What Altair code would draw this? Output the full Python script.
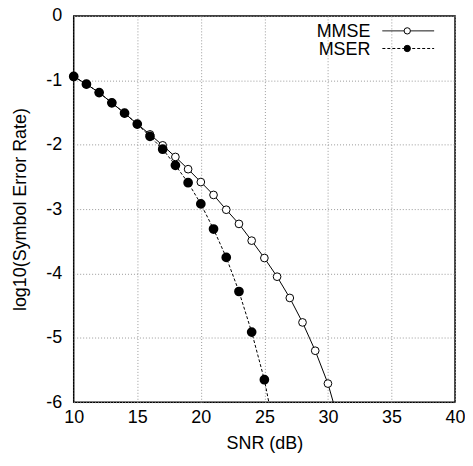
import altair as alt
import pandas as pd

snr = [10, 11, 12, 13, 14, 15, 16, 17, 18, 19, 20, 21, 22, 23, 24, 25, 26, 27, 28, 29, 30]
mmse = [-0.94, -1.06, -1.19, -1.35, -1.51, -1.68, -1.84, -2.01, -2.19, -2.38, -2.58, -2.78,
        -3.01, -3.23, -3.49, -3.76, -4.05, -4.38, -4.76, -5.2, -5.71]
snr_mser = [10, 11, 12, 13, 14, 15, 16, 17, 18, 19, 20, 21, 22, 23, 24, 25]
mser = [-0.94, -1.06, -1.19, -1.35, -1.51, -1.68, -1.87, -2.07, -2.32, -2.59, -2.92, -3.31,
        -3.75, -4.28, -4.91, -5.65]
# where the drawn curves leave the plot at the bottom edge
mmse_tail = (30.42, -6.0)
mser_tail = (25.35, -6.0)
names = ["MMSE", "MSER"]

FONT = "Liberation Sans"
FS = 18

pts_mmse = pd.DataFrame({"snr": snr, "ser": mmse})
pts_mser = pd.DataFrame({"snr": snr_mser, "ser": mser})
line_mmse = pd.concat([pts_mmse, pd.DataFrame({"snr": [mmse_tail[0]], "ser": [mmse_tail[1]]})])
line_mser = pd.concat([pts_mser, pd.DataFrame({"snr": [mser_tail[0]], "ser": [mser_tail[1]]})])

xs = alt.Scale(domain=[10, 40], nice=False)
ys = alt.Scale(domain=[-6, 0], nice=False)
X = alt.X("snr:Q", scale=xs, axis=alt.Axis(title="SNR (dB)", values=[10, 15, 20, 25, 30, 35, 40]))
Y = alt.Y("ser:Q", scale=ys, axis=alt.Axis(title="log10(Symbol Error Rate)",
                                          values=[0, -1, -2, -3, -4, -5, -6],
                                          labelExpr="'' + datum.value"))

l1 = alt.Chart(line_mmse).mark_line(color="black", strokeWidth=1).encode(x=X, y=Y)
p1 = alt.Chart(pts_mmse).mark_point(shape="circle", filled=True, fill="white", stroke="black",
                                    strokeWidth=1, size=60, opacity=1).encode(x=X, y=Y)
l2 = alt.Chart(line_mser).mark_line(color="black", strokeWidth=1, strokeDash=[3, 2]).encode(x=X, y=Y)
p2 = alt.Chart(pts_mser).mark_point(shape="circle", filled=True, fill="black", stroke="black",
                                    size=60, opacity=1).encode(x=X, y=Y)

leg_df = pd.DataFrame({"name": names})
legend_layers = []
for i, nm in enumerate(names):
    d = leg_df[leg_df["name"] == nm]
    ytxt = 21.5 + 17.7 * i
    yy = 15 + 17.7 * i
    legend_layers.append(
        alt.Chart(d).mark_text(align="right", baseline="alphabetic", font=FONT, fontSize=FS, color="black")
        .encode(text="name:N", x=alt.value(298), y=alt.value(ytxt)))
    legend_layers.append(
        alt.Chart(d).mark_rule(color="black", strokeWidth=1, strokeDash=[3, 2] if i == 1 else [1, 0])
        .encode(x=alt.value(310), x2=alt.value(362), y=alt.value(yy)))
    legend_layers.append(
        alt.Chart(d).mark_point(shape="circle", filled=True, fill="white" if i == 0 else "black",
                                stroke="black", strokeWidth=1, size=40, opacity=1)
        .encode(x=alt.value(335), y=alt.value(yy)))

chart = alt.layer(l1, p1, l2, p2, *legend_layers).properties(
    width=383, height=388,
    autosize=alt.AutoSizeParams(type="none"),
    padding={"left": 66, "top": 7, "right": 10, "bottom": 50},
).configure_view(stroke="black", strokeWidth=1.5).configure_axis(
    labelFont=FONT, titleFont=FONT, labelFontSize=FS, titleFontSize=FS,
    labelColor="black", titleColor="black", titleFontWeight="normal",
    grid=True, gridColor="#999999", gridDash=[1, 2], gridWidth=1,
    domain=False, ticks=False, labelFlush=False,
).configure_axisX(labelPadding=6, titlePadding=8).configure_axisY(labelPadding=12, titlePadding=16)

chart.save("out.html", embed_options={"renderer": "svg", "actions": False})
